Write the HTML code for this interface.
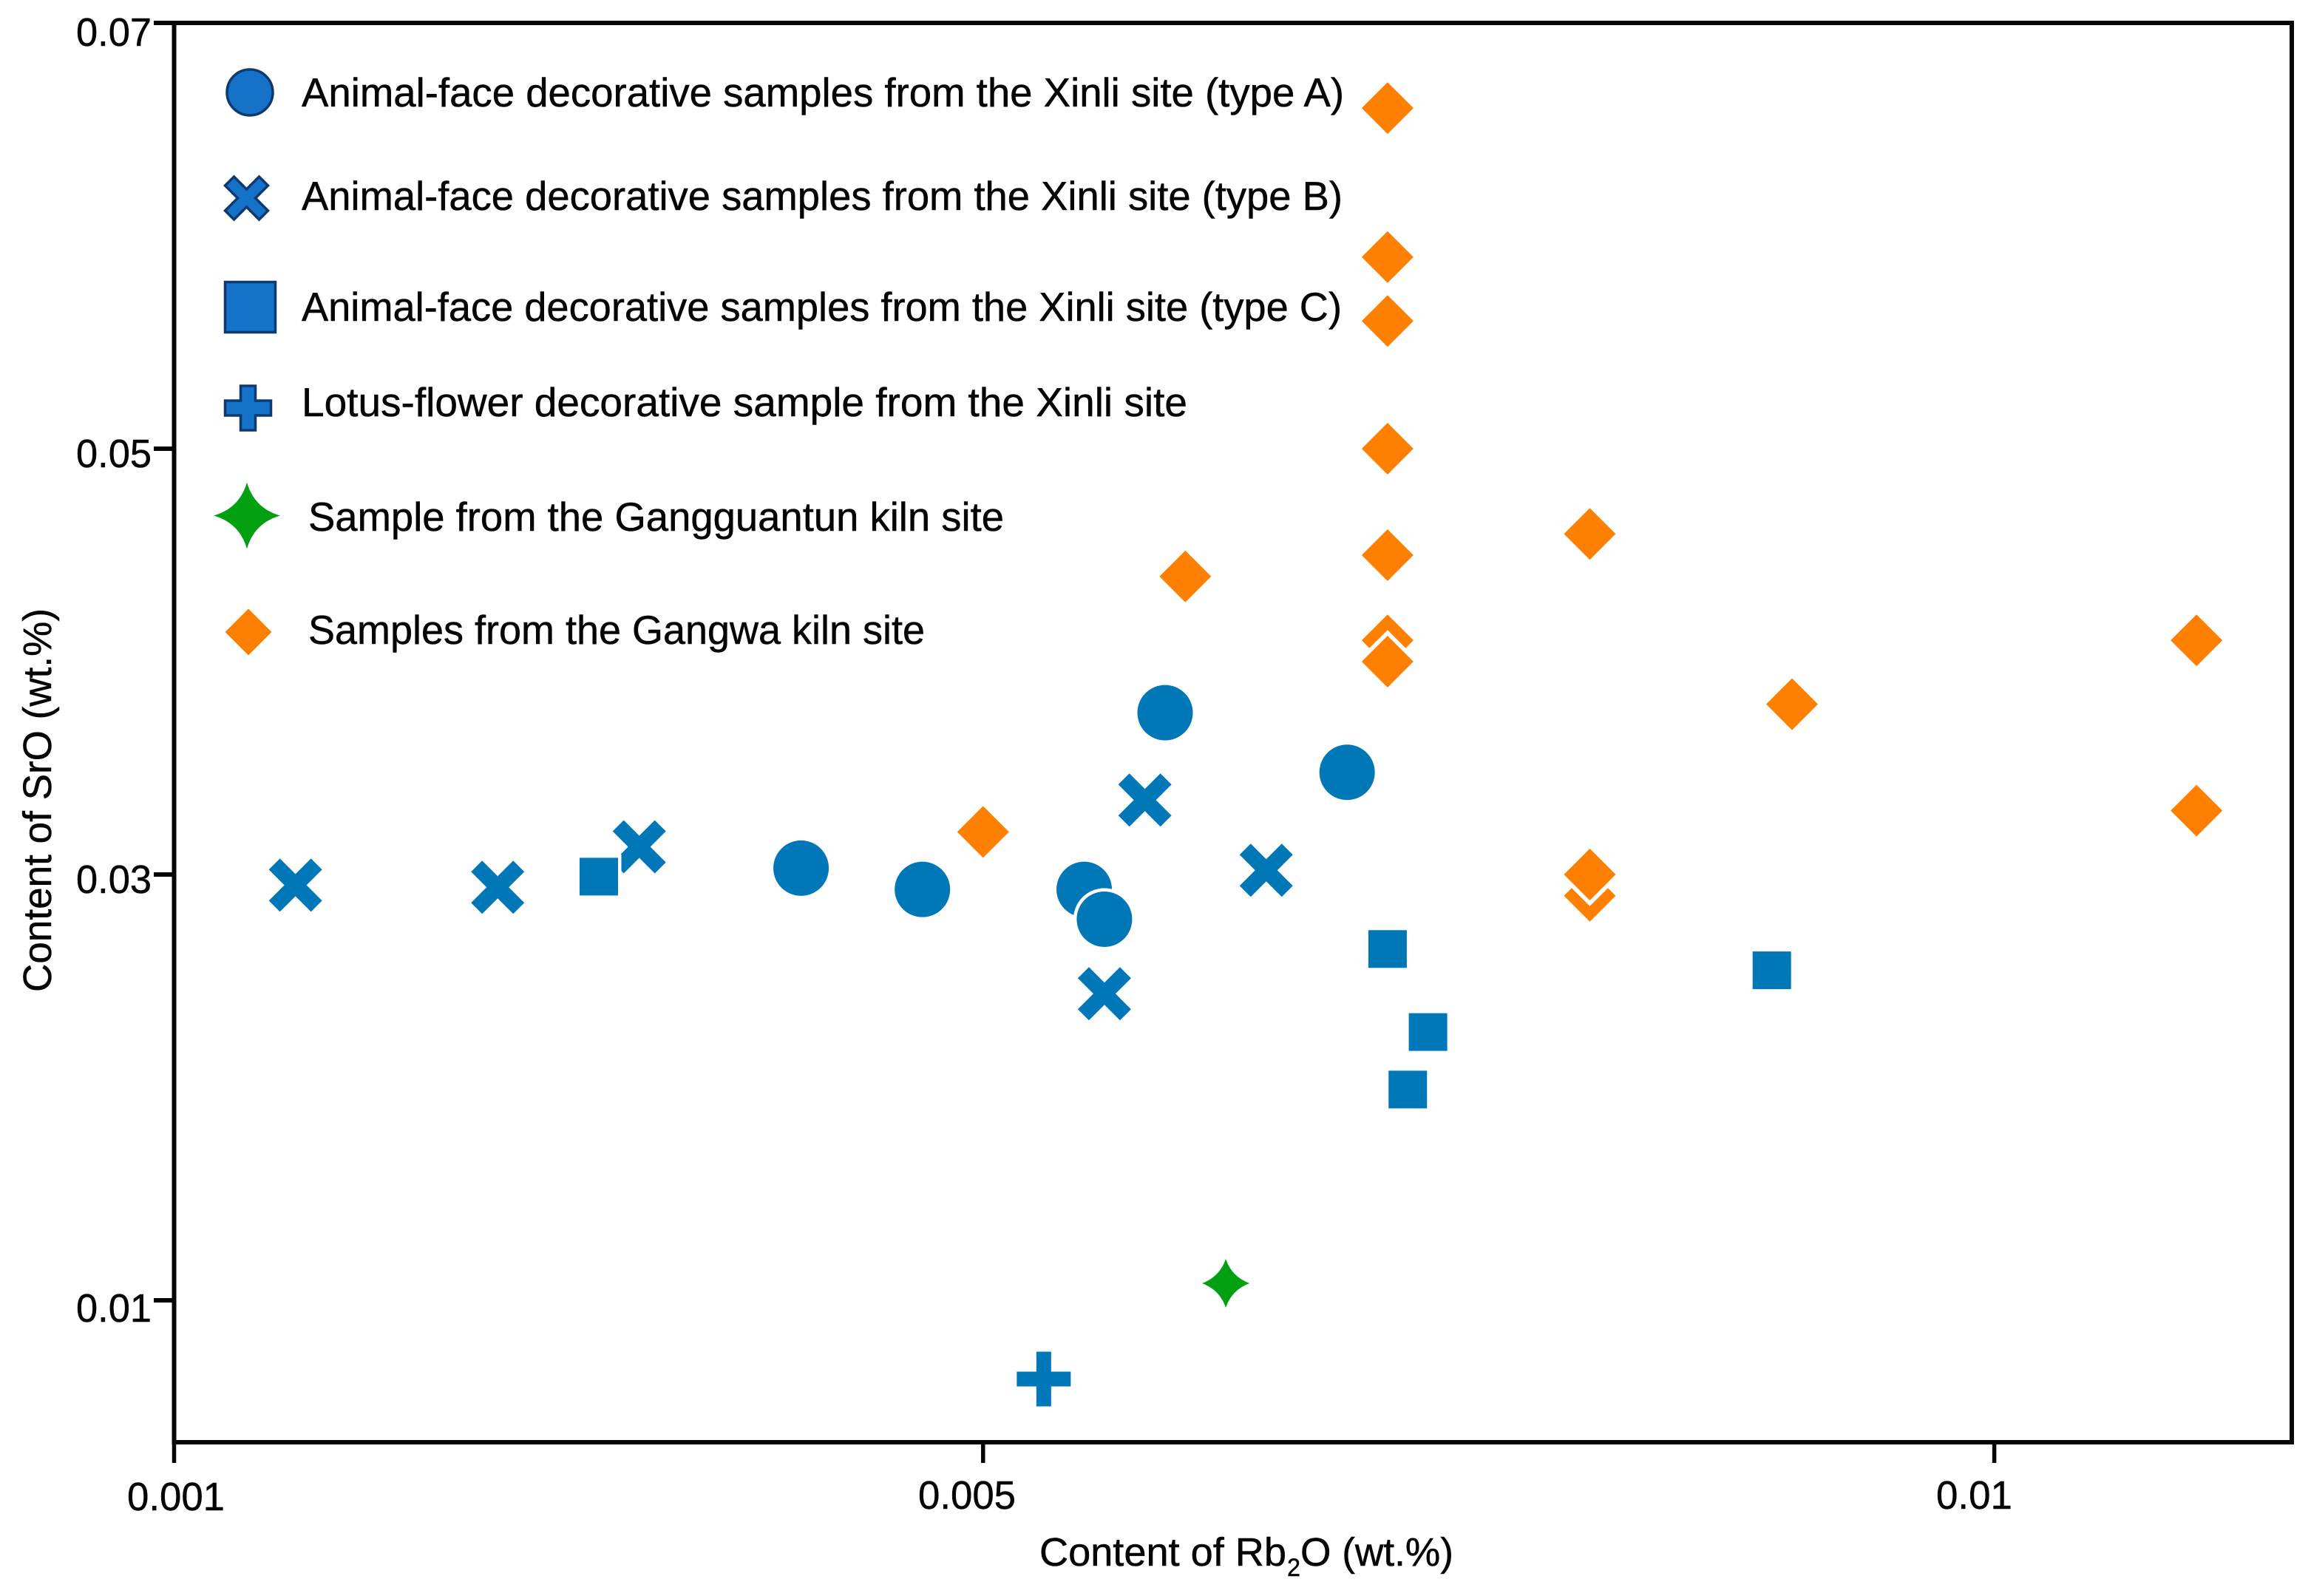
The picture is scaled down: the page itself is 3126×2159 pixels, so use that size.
<!DOCTYPE html>
<html lang="en">
<head>
<meta charset="utf-8">
<title>Content of SrO vs Rb2O scatter chart</title>
<style>
html,body{margin:0;padding:0;background:#fff;}
svg{display:block;}
text{font-family:"Liberation Sans",sans-serif;fill:#050505;stroke:#050505;stroke-width:0.5px;}
</style>
</head>
<body>
<svg id="chart" xmlns="http://www.w3.org/2000/svg" width="3126" height="2159" viewBox="0 0 3126 2159">
  <rect x="0" y="0" width="3126" height="2159" fill="#ffffff"/>
  <rect x="235.5" y="31" width="2864.5" height="1920" fill="none" stroke="#050505" stroke-width="6"/>
  <g id="ticks"></g>
  <g id="marks"></g>

  <text transform="translate(69,1342) rotate(-90)" font-size="54" textLength="519" lengthAdjust="spacingAndGlyphs">Content of SrO (wt.%)</text>
  <g>
    <text x="1406" y="2118" font-size="54" textLength="334" lengthAdjust="spacingAndGlyphs">Content of Rb</text>
    <text x="1741" y="2132" font-size="34" textLength="18" lengthAdjust="spacingAndGlyphs">2</text>
    <text x="1759" y="2118" font-size="54" textLength="207" lengthAdjust="spacingAndGlyphs">O (wt.%)</text>
  </g>

  <g>
    <g>
      <circle cx="338" cy="125" r="31" fill="#1472c8" stroke="#0e3a70" stroke-width="3.5"/>
      <text x="408" y="144" font-size="55" textLength="1410" lengthAdjust="spacingAndGlyphs">Animal-face decorative samples from the Xinli site (type A)</text>
    </g>
    <g>
      <polygon transform="translate(333.5,268)" points="-29,-17 -17,-29 0,-12 17,-29 29,-17 12,0 29,17 17,29 0,12 -17,29 -29,17 -12,0" fill="#1472c8" stroke="#0e3a70" stroke-width="3.5"/>
      <text x="408" y="284" font-size="55" textLength="1408" lengthAdjust="spacingAndGlyphs">Animal-face decorative samples from the Xinli site (type B)</text>
    </g>
    <g>
      <rect x="304.5" y="381.5" width="68" height="68" fill="#1472c8" stroke="#0e3a70" stroke-width="3.5"/>
      <text x="408" y="434" font-size="55" textLength="1407" lengthAdjust="spacingAndGlyphs">Animal-face decorative samples from the Xinli site (type C)</text>
    </g>
    <g>
      <polygon transform="translate(335.5,552)" points="-10,-30 10,-30 10,-10 31,-10 31,10 10,10 10,30 -10,30 -10,10 -31,10 -31,-10 -10,-10" fill="#1472c8" stroke="#0e3a70" stroke-width="3.5"/>
      <text x="408" y="563" font-size="55" textLength="1198" lengthAdjust="spacingAndGlyphs">Lotus-flower decorative sample from the Xinli site</text>
    </g>
    <g>
      <path transform="translate(334,697.5)" d="M0,-45 Q10,-10 45,0 Q10,10 0,45 Q-10,10 -45,0 Q-10,-10 0,-45 Z" fill="#00a010"/>
      <text x="417" y="718" font-size="55" textLength="941" lengthAdjust="spacingAndGlyphs">Sample from the Gangguantun kiln site</text>
    </g>
    <g>
      <polygon transform="translate(336,855)" points="0,-31.5 31.5,0 0,31.5 -31.5,0" fill="#ff8000"/>
      <text x="417" y="871" font-size="55" textLength="834" lengthAdjust="spacingAndGlyphs">Samples from the Gangwa kiln site</text>
    </g>
  </g>
</svg>
<script>
// Tick values and labels
const xTickValues = [0.001, 0.005, 0.01];
const xTickLabels = ["0.001", "0.005", "0.01"];
const yTickValues = [0.07, 0.05, 0.03, 0.01];
const yTickLabels = ["0.07", "0.05", "0.03", "0.01"];

// Series values (Rb2O on x, SrO on y, wt.%)
const typeARb = [0.0059, 0.0068, 0.0041, 0.0047, 0.0055, 0.0056];
const typeASr = [0.0376, 0.0348, 0.0303, 0.0293, 0.0293, 0.0279];
const typeBRb = [0.0016, 0.0026, 0.0033, 0.0058, 0.0064, 0.0056];
const typeBSr = [0.0295, 0.0294, 0.0313, 0.0335, 0.0302, 0.0244];
const typeCRb = [0.0031, 0.007, 0.0072, 0.0071, 0.0089];
const typeCSr = [0.0299, 0.0265, 0.0226, 0.0199, 0.0255];
const lotusRb = [0.0053];
const lotusSr = [0.0063];
const gangguantunRb = [0.0062];
const gangguantunSr = [0.0108];
const gangwaRb = [0.007, 0.007, 0.007, 0.007, 0.007, 0.007, 0.007, 0.008, 0.006, 0.011, 0.009, 0.011, 0.005, 0.008, 0.008];
const gangwaSr = [0.066, 0.059, 0.056, 0.05, 0.045, 0.041, 0.04, 0.046, 0.044, 0.041, 0.038, 0.033, 0.032, 0.029, 0.03];

const SVG_NS = "http://www.w3.org/2000/svg";
const ticksLayer = document.getElementById("ticks");
const marksLayer = document.getElementById("marks");

function xScale(v) { return 235.5 + (v - 0.001) * 273567; }
function yScale(v) { return 31 + (0.07 - v) * 28800; }

function drawTickLine(x1, y1, x2, y2, w) {
  const el = document.createElementNS(SVG_NS, "line");
  el.setAttribute("x1", x1);
  el.setAttribute("y1", y1);
  el.setAttribute("x2", x2);
  el.setAttribute("y2", y2);
  el.setAttribute("stroke", "#050505");
  el.setAttribute("stroke-width", w);
  
  
  ticksLayer.appendChild(el);
}

function drawTickLabel(str, x, y, len) {
  const el = document.createElementNS(SVG_NS, "text");
  el.setAttribute("x", x);
  el.setAttribute("y", y);
  el.setAttribute("font-size", "54");
  el.setAttribute("textLength", len);
  el.setAttribute("lengthAdjust", "spacingAndGlyphs");
  el.textContent = str;
  
  
  ticksLayer.appendChild(el);
}

xTickValues.forEach(function (v, i) {
  const px = xScale(v);
  drawTickLine(px, 1951, px, 1979, 5.5);
  const len = xTickLabels[i].length === 5 ? 132 : 103;
  const left = i === 0 ? 172 : i === 1 ? 1242 : 2619;
  drawTickLabel(xTickLabels[i], left, i === 0 ? 2043 : 2041, len);
});

yTickValues.forEach(function (v, i) {
  const py = yScale(v);
  drawTickLine(208, py, 236, py, 6);
  drawTickLabel(yTickLabels[i], 103, py + (i === 0 ? 31 : i === 3 ? 29 : 25), 102);
});

function shapeElement(shape, cx, cy, fill) {
  let el;
  if (shape === "circle") {
    el = document.createElementNS(SVG_NS, "circle");
    el.setAttribute("cx", cx);
    el.setAttribute("cy", cy);
    el.setAttribute("r", 37.5);
  } else if (shape === "square") {
    el = document.createElementNS(SVG_NS, "rect");
    el.setAttribute("x", cx - 26);
    el.setAttribute("y", cy - 25.5);
    el.setAttribute("width", 52);
    el.setAttribute("height", 51);
  } else if (shape === "star") {
    el = document.createElementNS(SVG_NS, "path");
    el.setAttribute("d", "M0,-33 Q8,-9 32,0 Q8,9 0,33 Q-8,9 -32,0 Q-8,-9 0,-33 Z");
    el.setAttribute("transform", "translate(" + cx + "," + cy + ")");
  } else {
    el = document.createElementNS(SVG_NS, "polygon");
    let pts = "0,-35 35,0 0,35 -35,0";
    if (shape === "cross") {
      pts = "-36,-21 -21,-36 0,-15 21,-36 36,-21 15,0 36,21 21,36 0,15 -21,36 -36,21 -15,0";
    } else if (shape === "plus") {
      pts = "-10,-37 10,-37 10,-10 36.5,-10 36.5,10 10,10 10,37 -10,37 -10,10 -36.5,10 -36.5,-10 -10,-10";
    }
    el.setAttribute("points", pts);
    el.setAttribute("transform", "translate(" + cx + "," + cy + ")");
  }
  el.setAttribute("fill", fill);
  el.setAttribute("stroke", "#ffffff");
  el.setAttribute("stroke-width", shape === "diamond" ? 11 : 9);
  el.setAttribute("stroke-linejoin", "miter");
  el.setAttribute("paint-order", "stroke");
  return el;
}

const BLUE = "#0078b8";
const ORANGE = "#ff8000";
const GREEN = "#00a010";

gangwaRb.forEach(function (v, i) {
  const el = shapeElement("diamond", xScale(v), yScale(gangwaSr[i]), ORANGE);
  
  
  marksLayer.appendChild(el);
});
typeARb.forEach(function (v, i) {
  const el = shapeElement("circle", xScale(v), yScale(typeASr[i]), BLUE);
  
  
  marksLayer.appendChild(el);
});
typeBRb.forEach(function (v, i) {
  const el = shapeElement("cross", xScale(v), yScale(typeBSr[i]), BLUE);
  
  
  marksLayer.appendChild(el);
});
typeCRb.forEach(function (v, i) {
  const el = shapeElement("square", xScale(v), yScale(typeCSr[i]), BLUE);
  
  
  marksLayer.appendChild(el);
});
lotusRb.forEach(function (v, i) {
  const el = shapeElement("plus", xScale(v), yScale(lotusSr[i]), BLUE);
  
  
  marksLayer.appendChild(el);
});
gangguantunRb.forEach(function (v, i) {
  const el = shapeElement("star", xScale(v), yScale(gangguantunSr[i]), GREEN);
  
  
  marksLayer.appendChild(el);
});
</script>
</body>
</html>
